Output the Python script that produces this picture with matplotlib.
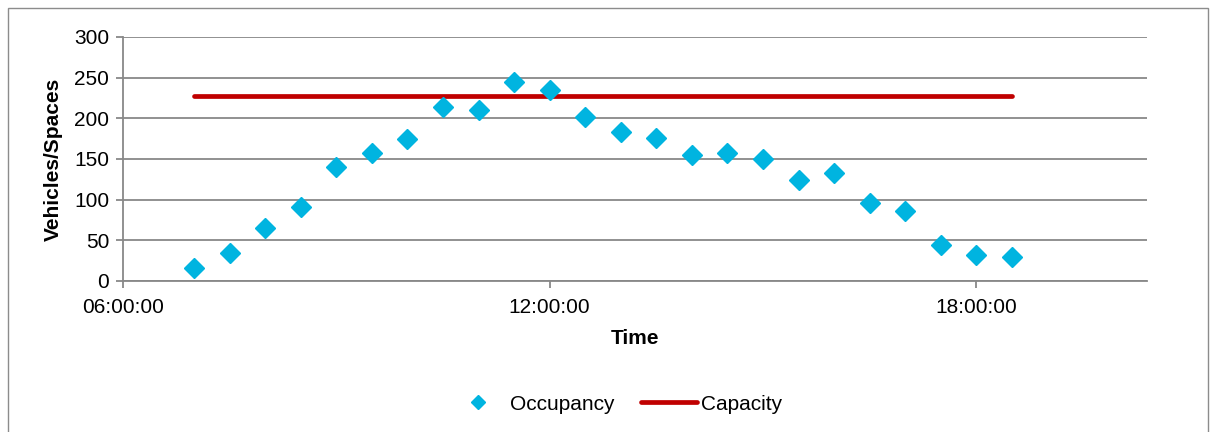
import matplotlib.pyplot as plt
import matplotlib.patches as mpatches
from matplotlib.lines import Line2D
from matplotlib.ticker import FixedLocator, FuncFormatter

plt.rcParams['font.family'] = ['Liberation Sans', 'DejaVu Sans']

# survey times (30 min intervals) and counted vehicles
times = ['07:00', '07:30', '08:00', '08:30', '09:00', '09:30', '10:00', '10:30',
         '11:00', '11:30', '12:00', '12:30', '13:00', '13:30', '14:00', '14:30',
         '15:00', '15:30', '16:00', '16:30', '17:00', '17:30', '18:00', '18:30']
occupancy = [16, 34, 65, 91, 140, 157, 175, 214, 210, 245, 235, 202,
             183, 176, 155, 157, 150, 124, 133, 96, 86, 44, 32, 30]
capacity = 228
x_ticks = ['06:00', '12:00', '18:00']


def to_hours(t):
    h, m = t.split(':')
    return int(h) + int(m) / 60.0


hours = [to_hours(t) for t in times]
cap_x = [hours[0], hours[-1]]
cap_y = [capacity, capacity]

blue = '#00B4E0'
red = '#C00000'
grid_col = '#888888'
fs = 15

fig = plt.figure(figsize=(12.13, 4.32), dpi=100)
ax = fig.add_axes([123 / 1213, 1 - 281 / 432, (1147 - 123) / 1213, (281 - 37) / 432])

ax.plot(hours, occupancy, 'D', color=blue, markersize=10, zorder=4)
ax.plot(cap_x, cap_y, '-', color=red, linewidth=3.4, solid_capstyle='round', zorder=3)

ax.set_xlim(6, 20.4)
ax.set_ylim(0, 300)
ax.set_yticks(range(0, 301, 50))
ax.xaxis.set_major_locator(FixedLocator([to_hours(t) for t in x_ticks]))
ax.xaxis.set_major_formatter(FuncFormatter(lambda v, p: '%02d:00:00' % int(round(v))))
ax.yaxis.grid(True, color=grid_col, linewidth=1.3)
ax.set_axisbelow(True)

for s in ['top', 'right']:
    ax.spines[s].set_visible(False)
for s in ['left', 'bottom']:
    ax.spines[s].set_color(grid_col)
    ax.spines[s].set_linewidth(1.3)
ax.tick_params(axis='both', colors=grid_col, length=5, width=1.3, labelsize=fs,
               labelcolor='black')
ax.tick_params(axis='x', pad=7)
ax.tick_params(axis='y', pad=5)

ax.set_xlabel('Time', fontsize=fs, fontweight='bold', labelpad=9)
ax.set_ylabel('Vehicles/Spaces', fontsize=fs, fontweight='bold', labelpad=8)

handles = [Line2D([], [], linestyle='none', marker='D', color=blue, markersize=7),
           Line2D([], [], color=red, linewidth=3.4, solid_capstyle='round')]
fig.legend(handles, ['Occupancy', 'Capacity'], loc='center',
           bbox_to_anchor=(616 / 1213, 1 - 404 / 432), ncol=2, frameon=False,
           fontsize=fs, handlelength=2.7, columnspacing=1.3, handletextpad=0.15)

# chart area border
fig.patches.append(mpatches.Rectangle((8 / 1213, -0.01), 1200 / 1213, 1 - 8 / 432 + 0.01,
                                      transform=fig.transFigure, fill=False,
                                      edgecolor='#8c8c8c', linewidth=1.0))

plt.savefig('out.png', dpi=100)
